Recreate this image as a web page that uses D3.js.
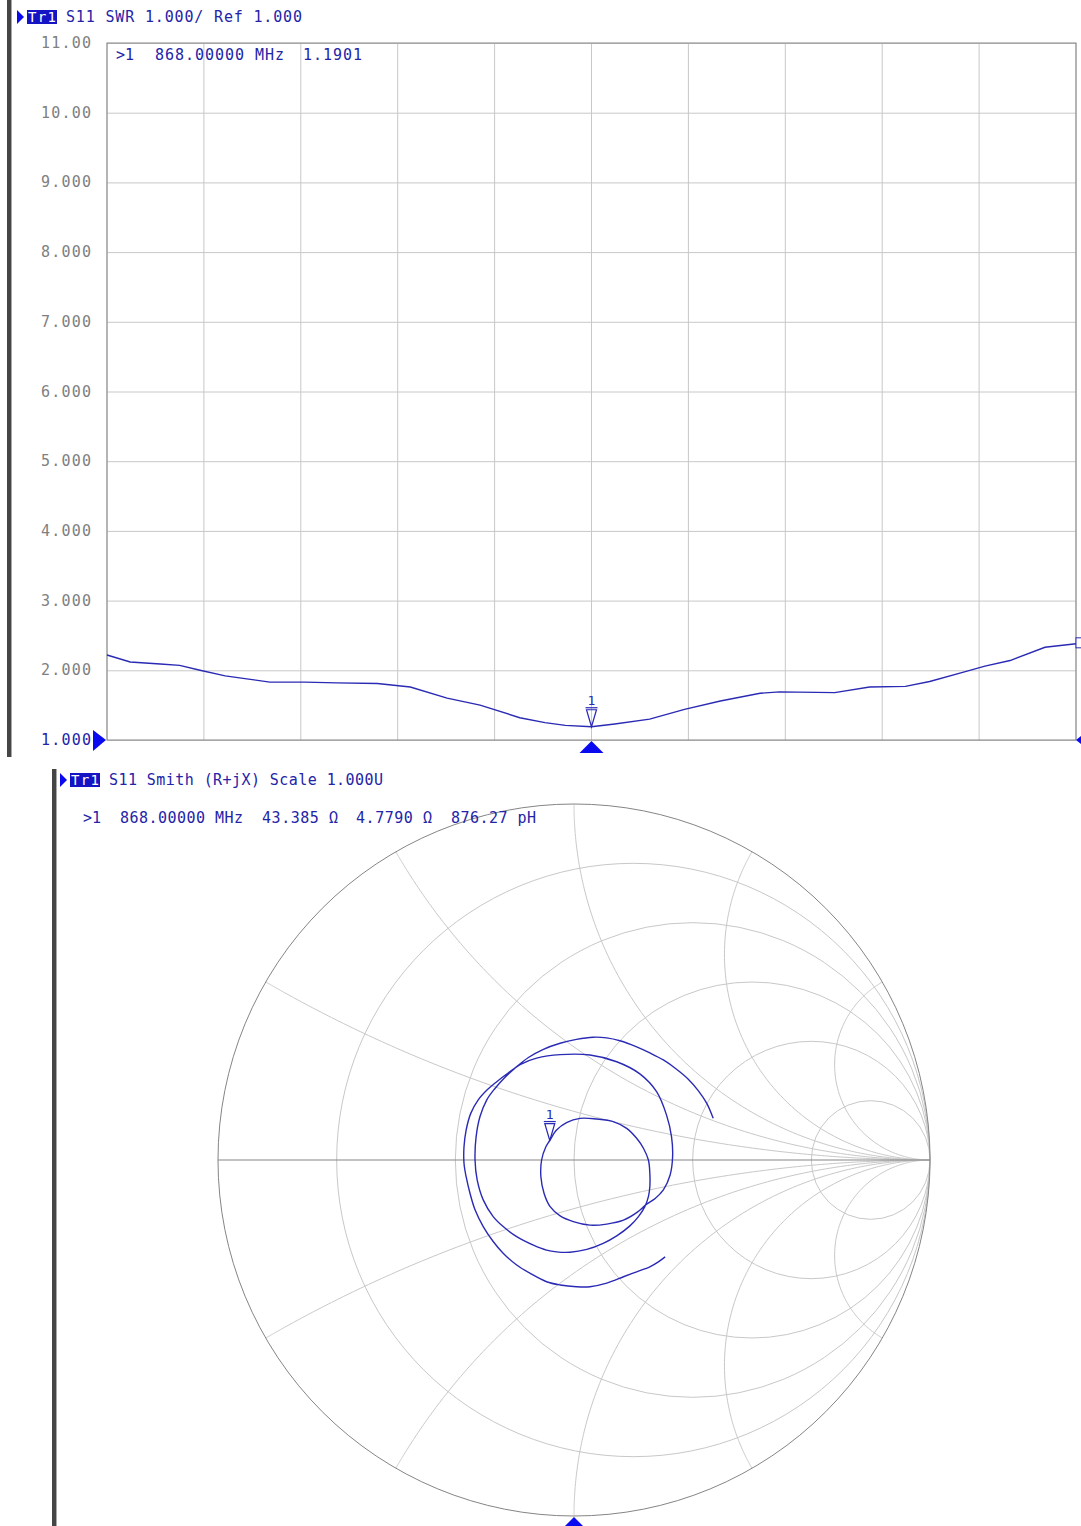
<!DOCTYPE html>
<html>
<head>
<meta charset="utf-8">
<script src="https://cdn.jsdelivr.net/npm/d3@7"></script>
<style>
  body { margin: 0; background: #fff; }
  text { font-family: "DejaVu Sans Mono", "Liberation Mono", monospace; }
</style>
</head>
<body>
<div id="chart"></div>
<script>
// ---- data ----
var startFreq = 818;   // MHz (span is not shown, 10 divisions)
var stopFreq = 918;

var swrFreq = [818.0, 820.4, 823.5, 825.5, 827.6, 830.2, 832.8, 834.8, 838.4, 841.7, 845.9,
  849.3, 853.1, 856.5, 860.6, 863.2, 865.3, 868.0, 870.4, 874.0, 877.6, 881.3, 885.4,
  887.4, 893.1, 896.7, 900.4, 902.9, 906.3, 908.6, 911.2, 914.8, 918.0];
var swrValue = [2.22, 2.12, 2.09, 2.07, 2.00, 1.92, 1.87, 1.83, 1.83, 1.82, 1.81,
  1.76, 1.60, 1.50, 1.32, 1.25, 1.21, 1.19, 1.23, 1.30, 1.44, 1.56, 1.67,
  1.69, 1.68, 1.76, 1.77, 1.84, 1.97, 2.06, 2.14, 2.33, 2.38];
var swrTicks = [1, 2, 3, 4, 5, 6, 7, 8, 9, 10, 11];

// S11 as reflection coefficient, same sweep
var gammaRe = [0.256, 0.237, 0.213, 0.176, 0.139, 0.092, 0.045, 0.007, -0.039, -0.077, -0.124, -0.161,
  -0.199, -0.227, -0.255, -0.278, -0.292, -0.303, -0.309, -0.309, -0.303, -0.290, -0.269, -0.243, -0.217,
  -0.184, -0.147, -0.105, -0.039, 0.045, 0.120, 0.185, 0.232, 0.260, 0.274, 0.277, 0.270, 0.251, 0.228, 0.204,
  0.176, 0.139, 0.092, 0.045, -0.002, -0.039, -0.067, -0.084, -0.093, -0.091, -0.079, -0.068,
  -0.049, -0.021, 0.017, 0.064, 0.110, 0.148, 0.176, 0.195, 0.209, 0.213, 0.213, 0.209, 0.199, 0.181, 0.157,
  0.120, 0.082, 0.036, -0.011, -0.049, -0.077, -0.114, -0.161, -0.199, -0.227, -0.255, -0.272, -0.278,
  -0.275, -0.264, -0.245, -0.222, -0.199,
  -0.166, -0.128, -0.086, -0.039, 0.007, 0.054, 0.092, 0.129, 0.176, 0.213, 0.251, 0.288, 0.321, 0.349, 0.373, 0.391];
var gammaIm = [-0.272, -0.286, -0.300, -0.314, -0.328, -0.346, -0.356, -0.356, -0.351, -0.342, -0.318, -0.295,
  -0.262, -0.229, -0.187, -0.140, -0.094, -0.047, -0.009, 0.037, 0.084, 0.131, 0.169, 0.198, 0.220,
  0.245, 0.270, 0.286, 0.296, 0.295, 0.276, 0.242, 0.192, 0.126, 0.065, 0.009, -0.042, -0.084, -0.108, -0.124,
  -0.148, -0.169, -0.180, -0.183, -0.173, -0.157, -0.131, -0.094, -0.047, 0.000, 0.037, 0.055,
  0.084, 0.105, 0.117, 0.115, 0.108, 0.089, 0.061, 0.033, 0.000, -0.037, -0.075, -0.103, -0.131, -0.159, -0.185,
  -0.213, -0.234, -0.251, -0.259, -0.258, -0.253, -0.239, -0.215, -0.187, -0.159, -0.112, -0.056, 0.000,
  0.065, 0.122, 0.169, 0.201, 0.227,
  0.258, 0.288, 0.311, 0.328, 0.339, 0.345, 0.343, 0.335, 0.318, 0.301, 0.281, 0.255, 0.227, 0.195, 0.159, 0.117];

// smith grid: constant resistance circles and reactance arcs (normalised)
var rCircles = [0.2, 0.5, 1, 2, 5];
var xArcs = [0.268, 0.577, 1, 1.732, 3.732];

// marker 1
var markerFreq = 868;
var markerSwr = 1.1901;
var markerR = 43.385, markerX = 4.779, z0 = 50;

var topTitle = "S11 SWR 1.000/ Ref 1.000";
var smithTitle = "S11 Smith (R+jX) Scale 1.000U";
var topReadout = [">1", "868.00000 MHz", "1.1901"];
var smithReadout = [">1", "868.00000 MHz", "43.385 \u03a9", "4.7790 \u03a9", "876.27 pH"];

// ---- styles ----
var traceColor = "#2a2ab4";
var textBlue = "#2424a8";
var markBlue = "#0a0af0";
var gridColor = "#c8c8c8";
var frameColor = "#858585";
var fontSize = "15px";

var svg = d3.select("#chart").append("svg")
  .attr("width", 1081).attr("height", 1526)
  .style("background", "#fff");

function label(g, str, x, y, len, color, anchor) {
  return g.append("text")
    .attr("x", x).attr("y", y)
    .attr("dominant-baseline", "central")
    .attr("text-anchor", anchor || "start")
    .attr("textLength", len).attr("lengthAdjust", "spacing")
    .style("font-size", fontSize)
    .attr("fill", color)
    .text(str);
}

function traceTag(g, x0, y0, title, titleLen) {
  // little arrow + highlighted "Tr1"
  g.append("path").attr("d", "M" + x0 + "," + (y0 - 7) + "L" + (x0 + 7) + "," + y0 + "L" + x0 + "," + (y0 + 7) + "Z")
    .attr("fill", markBlue);
  g.append("rect").attr("x", x0 + 10).attr("y", y0 - 7).attr("width", 30).attr("height", 14).attr("fill", "#1414c4");
  label(g, "Tr1", x0 + 11, y0, 28, "#fff").style("font-size", "14px");
  label(g, title, x0 + 49, y0, titleLen, textBlue);
}

function markerSymbol(g, px, py) {
  g.append("text").attr("x", px).attr("y", py - 26)
    .attr("text-anchor", "middle").attr("dominant-baseline", "central")
    .style("font-size", "13px").attr("fill", traceColor).text("1");
  g.append("line").attr("x1", px - 6).attr("x2", px + 6).attr("y1", py - 19).attr("y2", py - 19)
    .attr("stroke", traceColor).attr("stroke-width", 1.2);
  g.append("path").attr("d", "M" + (px - 5) + "," + (py - 17) + "L" + (px + 5) + "," + (py - 17) + "L" + px + "," + py + "Z")
    .attr("fill", "none").attr("stroke", traceColor).attr("stroke-width", 1.2);
}

// ================= SWR panel =================
var swrG = svg.append("g");
swrG.append("rect").attr("x", 7).attr("y", 0).attr("width", 4).attr("height", 757).attr("fill", "#454545");
swrG.append("rect").attr("x", 11).attr("y", 0).attr("width", 1).attr("height", 757).attr("fill", "#a8a8a8");
traceTag(swrG, 17, 17, topTitle, 236);

var x = d3.scaleLinear().domain([startFreq, stopFreq]).range([107, 1076]);
var y = d3.scaleLinear().domain([1, 11]).range([740, 43]);

var xGrid = d3.range(0, 11).map(function (i) { return startFreq + i * (stopFreq - startFreq) / 10; });
swrG.append("g").selectAll("line").data(xGrid).enter().append("line")
  .attr("x1", function (d) { return x(d); }).attr("x2", function (d) { return x(d); })
  .attr("y1", y(11)).attr("y2", y(1))
  .attr("stroke", gridColor);

var yAxis = swrG.append("g")
  .attr("transform", "translate(" + x(startFreq) + ",0)")
  .call(d3.axisLeft(y).tickValues(swrTicks).tickSize(-(x(stopFreq) - x(startFreq))).tickPadding(16)
    .tickFormat(d3.format(".4r")));
yAxis.select(".domain").remove();
yAxis.selectAll(".tick line").attr("stroke", gridColor);
yAxis.selectAll(".tick text")
  .attr("font-family", null).attr("font-size", null)
  .style("font-size", fontSize)
  .attr("dy", "0.3em")
  .attr("textLength", 50).attr("lengthAdjust", "spacing")
  .attr("fill", function (d) { return d === 1 ? textBlue : "#808080"; });

swrG.append("rect").attr("x", x(startFreq)).attr("y", y(11))
  .attr("width", x(stopFreq) - x(startFreq)).attr("height", y(1) - y(11))
  .attr("fill", "none").attr("stroke", frameColor);

var swrLine = d3.line()
  .x(function (d, i) { return x(swrFreq[i]); })
  .y(function (d) { return y(d); });
swrG.append("path").datum(swrValue)
  .attr("d", swrLine)
  .attr("fill", "none").attr("stroke", traceColor).attr("stroke-width", 1.4);

// readout
label(swrG, topReadout[0], 116, 55, 18, textBlue);
label(swrG, topReadout[1], 155, 55, 129, textBlue);
label(swrG, topReadout[2], 303, 55, 59, textBlue);

// reference level arrow, stimulus marker, right edge symbols
swrG.append("path").attr("d", "M93," + (y(1) - 10) + "L106," + y(1) + "L93," + (y(1) + 11) + "Z").attr("fill", markBlue);
markerSymbol(swrG, x(markerFreq), y(markerSwr));
swrG.append("path").attr("d", "M" + x(markerFreq) + "," + (y(1) + 1) + "L" + (x(markerFreq) + 12) + "," + (y(1) + 13) +
  "L" + (x(markerFreq) - 12) + "," + (y(1) + 13) + "Z").attr("fill", markBlue);
swrG.append("path").attr("d", "M" + x(stopFreq) + "," + y(1) + "L" + (x(stopFreq) + 10) + "," + (y(1) - 8) +
  "L" + (x(stopFreq) + 10) + "," + (y(1) + 8) + "Z").attr("fill", markBlue);
swrG.append("rect").attr("x", x(stopFreq)).attr("y", y(swrValue[swrValue.length - 1]) - 6)
  .attr("width", 10).attr("height", 10).attr("fill", "#fff").attr("stroke", traceColor);

// ================= Smith panel =================
var sm = svg.append("g");
sm.append("rect").attr("x", 52).attr("y", 769).attr("width", 4).attr("height", 757).attr("fill", "#454545");
sm.append("rect").attr("x", 56).attr("y", 769).attr("width", 1).attr("height", 757).attr("fill", "#a8a8a8");
traceTag(sm, 60, 780, smithTitle, 274);

var gx = d3.scaleLinear().domain([-1, 1]).range([218, 930]);
var gy = d3.scaleLinear().domain([-1, 1]).range([1516, 804]);
var unit = gx(1) - gx(0);

function gammaOf(r, xv) {
  var den = (r + 1) * (r + 1) + xv * xv;
  return [(r * r - 1 + xv * xv) / den, 2 * xv / den];
}

// resistance circles
sm.append("g").selectAll("circle").data(rCircles).enter().append("circle")
  .attr("cx", function (r) { return gx(r / (1 + r)); })
  .attr("cy", gy(0))
  .attr("r", function (r) { return unit / (1 + r); })
  .attr("fill", "none").attr("stroke", gridColor);

// reactance arcs, both signs
var rSamples = [0].concat(d3.range(-3, 4.001, 0.02).map(function (e) { return Math.pow(10, e); }));
var arcLine = d3.line().x(function (p) { return gx(p[0]); }).y(function (p) { return gy(p[1]); });
var arcs = [];
xArcs.forEach(function (xv) { arcs.push(xv); arcs.push(-xv); });
sm.append("g").selectAll("path").data(arcs).enter().append("path")
  .attr("d", function (xv) { return arcLine(rSamples.map(function (r) { return gammaOf(r, xv); })); })
  .attr("fill", "none").attr("stroke", gridColor);

sm.append("line").attr("x1", gx(-1)).attr("x2", gx(1)).attr("y1", gy(0)).attr("y2", gy(0))
  .attr("stroke", frameColor);
sm.append("circle").attr("cx", gx(0)).attr("cy", gy(0)).attr("r", unit)
  .attr("fill", "none").attr("stroke", frameColor);

var smithLine = d3.line()
  .x(function (d) { return gx(gammaRe[d]); })
  .y(function (d) { return gy(gammaIm[d]); })
  .curve(d3.curveCatmullRom);
sm.append("path").datum(d3.range(gammaRe.length))
  .attr("d", smithLine)
  .attr("fill", "none").attr("stroke", traceColor).attr("stroke-width", 1.4);

var mg = gammaOf(markerR / z0, markerX / z0);
markerSymbol(sm, gx(mg[0]), gy(mg[1]));
sm.append("path").attr("d", "M" + gx(0) + "," + (gy(-1) + 1) + "L" + (gx(0) + 11) + "," + (gy(-1) + 12) +
  "L" + (gx(0) - 11) + "," + (gy(-1) + 12) + "Z").attr("fill", markBlue);

label(sm, smithReadout[0], 83, 818, 18, textBlue);
label(sm, smithReadout[1], 120, 818, 123, textBlue);
label(sm, smithReadout[2], 262, 818, 76, textBlue);
label(sm, smithReadout[3], 356, 818, 76, textBlue);
label(sm, smithReadout[4], 451, 818, 85, textBlue);
</script>
</body>
</html>
